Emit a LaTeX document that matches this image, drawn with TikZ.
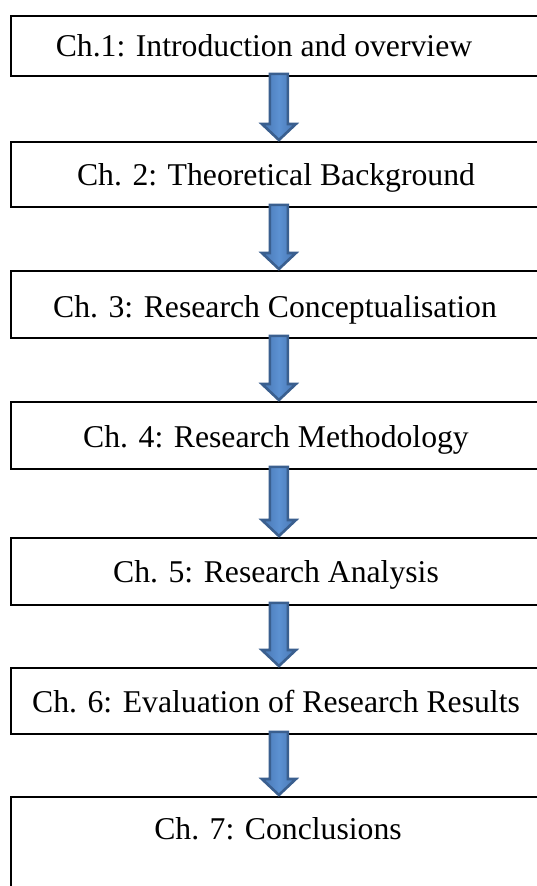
\documentclass[tikz,border=0pt]{standalone}
\usepackage{fontspec}
\setmainfont{Liberation Serif}
\usetikzlibrary{calc}
\definecolor{arrowedge}{RGB}{58,95,143}
\definecolor{arrowfill}{RGB}{72,118,178}
\definecolor{arrowlight}{RGB}{92,145,210}
\tikzset{
  chbox/.style={draw=black, line width=1.8pt, rectangle, minimum width=536pt, inner sep=0pt, anchor=north west},
  chlabel/.style={anchor=base, inner sep=0pt, font=\fontsize{31.7}{38}\selectfont},
  blockarrow/.style={draw=arrowedge, line width=2.6pt, line join=miter, left color=arrowfill, right color=arrowfill, middle color=arrowlight, shading angle=90}
}
\newcommand\chapterarrow[2]{%
  \path[blockarrow] let \p1=(#1.south), \p2=(#2.north) in
    (\x1-9pt,\y1+3pt) -- (\x1-9pt,\y2+17pt) -- (\x1-17pt,\y2+17pt) -- (\x2,\y2+1pt)
    -- (\x1+17pt,\y2+17pt) -- (\x1+9pt,\y2+17pt) -- (\x1+9pt,\y1+3pt) -- cycle;}
\begin{document}
\begin{tikzpicture}[x=1pt,y=1pt]
  \useasboundingbox (0,0) rectangle (537,-886);
  \clip (0,0) rectangle (537,-886);
  \fill[white] (0,0) rectangle (537,-886);
  % boxes
  \node[chbox, minimum height=60pt] (b1) at (10,-15) {};
  \node[chbox, minimum height=65pt] (b2) at (10,-141) {};
  \node[chbox, minimum height=67pt] (b3) at (10,-270) {};
  \node[chbox, minimum height=67pt] (b4) at (10,-401) {};
  \node[chbox, minimum height=67pt] (b5) at (10,-537) {};
  \node[chbox, minimum height=66pt] (b6) at (10,-667) {};
  \node[chbox, minimum height=140pt] (b7) at (10,-796) {};
  % labels
  \node[chlabel] (t1) at (264,-56) {Ch.1: Introduction and overview};
  \node[chlabel] (t2) at (276,-185) {Ch. 2: Theoretical Background};
  \node[chlabel] (t3) at (275,-317) {Ch. 3: Research Conceptualisation};
  \node[chlabel] (t4) at (276,-447) {Ch. 4: Research Methodology};
  \node[chlabel] (t5) at (276,-582) {Ch. 5: Research Analysis};
  \node[chlabel] (t6) at (276,-712) {Ch. 6: Evaluation of Research Results};
  \node[chlabel] (t7) at (278,-839) {Ch. 7: Conclusions};
  % arrows
  \chapterarrow{b1}{b2}
  \chapterarrow{b2}{b3}
  \chapterarrow{b3}{b4}
  \chapterarrow{b4}{b5}
  \chapterarrow{b5}{b6}
  \chapterarrow{b6}{b7}
\end{tikzpicture}
\end{document}
